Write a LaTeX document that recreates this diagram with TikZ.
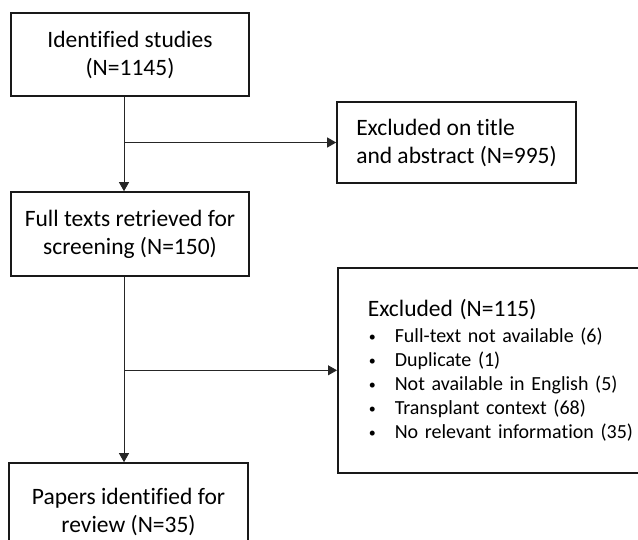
\documentclass[tikz,border=0pt]{standalone}
\usepackage{fontspec}
\setmainfont{Carlito}[Ligatures=NoCommon]
\usetikzlibrary{arrows.meta}
\newcommand{\smallbul}{\makebox[27pt][l]{\hspace*{1pt}\raisebox{0.15ex}{\fontsize{14}{14}\selectfont\textbullet}}}
\begin{document}
\begin{tikzpicture}[x=1pt,y=-1pt,
  box/.style={draw=black!90, line width=1.6pt, rectangle, inner sep=0pt, font=\fontsize{23.5}{28}\selectfont},
  conn/.style={draw=black!85, line width=0.9pt},
  arr/.style={conn, -{Triangle[length=9pt,width=10pt]}}]
\clip (0,0) rectangle (638,539);
\node[box, minimum width=238pt, minimum height=83pt, align=center] (b1) at (130,54.5) {Identified studies\\(N=1145)};
\node[box, minimum width=238pt, minimum height=84pt, align=center] (b2) at (130,234) {Full texts retrieved for\\screening (N=150)};
\node[box, minimum width=239pt, minimum height=81pt, align=left] (b3) at (456.5,142.5) {Excluded on title\\and abstract (N=995)};
\node[box, anchor=north west, text width=300pt, inner xsep=30pt, inner ysep=0pt, minimum height=205pt, align=left, font=\fontsize{20}{24}\selectfont] (b4) at (337,267)
  {{\fontsize{23.5}{28}\selectfont Excluded (N=115)}\\[2pt]
   \smallbul Full-text not available (6)\\
   \smallbul Duplicate (1)\\
   \smallbul Not available in English (5)\\
   \smallbul Transplant context (68)\\
   \smallbul No relevant information (35)};
\node[box, minimum width=239pt, minimum height=98pt, align=center] (b5) at (128.5,512) {Papers identified for\\review (N=35)};
\coordinate (v) at (124,0);
\draw[arr] (v |- b1.south) -- (v |- b2.north);
\draw[arr] (v |- b3.west) -- (b3.west);
\draw[arr] (v |- b2.south) -- (v |- b5.north);
\draw[arr] (v |- b4.west) -- (b4.west);
\end{tikzpicture}
\end{document}
